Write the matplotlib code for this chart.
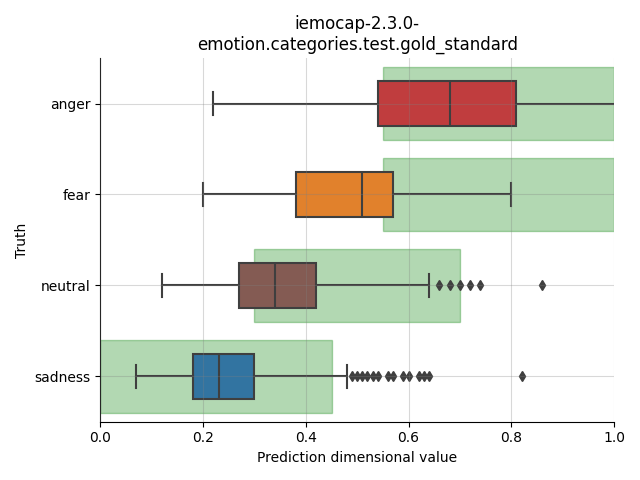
import matplotlib.pyplot as plt
from matplotlib.patches import Rectangle

# box statistics
categories = ['anger', 'fear', 'neutral', 'sadness']
whislo = [0.22, 0.20, 0.12, 0.07]
q1 = [0.54, 0.38, 0.27, 0.18]
med = [0.68, 0.51, 0.34, 0.23]
q3 = [0.81, 0.57, 0.42, 0.30]
whishi = [1.05, 0.80, 0.64, 0.48]
fliers = [
    [],
    [],
    [0.66, 0.68, 0.70, 0.72, 0.74, 0.86],
    [0.49, 0.50, 0.51, 0.52, 0.53, 0.54, 0.56, 0.57, 0.59, 0.60,
     0.62, 0.63, 0.64, 0.82],
]
# gold standard ranges
range_lo = [0.55, 0.55, 0.30, 0.00]
range_hi = [1.00, 1.00, 0.70, 0.45]
colors = ['#c03d3e', '#e1812c', '#845b53', '#3274a1']

fig, ax = plt.subplots(figsize=(6.4, 4.8), dpi=100)

for i in range(len(categories)):
    ax.add_patch(Rectangle((range_lo[i], i - 0.4), range_hi[i] - range_lo[i], 0.8,
                           color='green', alpha=0.3, zorder=1))

stats = []
for i, c in enumerate(categories):
    stats.append(dict(label=c, whislo=whislo[i], q1=q1[i], med=med[i],
                      q3=q3[i], whishi=whishi[i], fliers=fliers[i]))

line = '#3f3f3f'
bp = ax.bxp(stats, positions=range(len(categories)), widths=0.5,
            orientation='horizontal', patch_artist=True,
            boxprops=dict(edgecolor=line, linewidth=1.5),
            medianprops=dict(color=line, linewidth=1.5),
            whiskerprops=dict(color=line, linewidth=1.5),
            capprops=dict(color=line, linewidth=1.5),
            flierprops=dict(marker='d', markerfacecolor=line, markeredgecolor=line,
                            markersize=5))
for patch, col in zip(bp['boxes'], colors):
    patch.set_facecolor(col)
    patch.set_zorder(2)
for key in ['whiskers', 'caps', 'medians', 'fliers']:
    for artist in bp[key]:
        artist.set_zorder(2)

ax.set_xlim(0, 1)
ax.set_ylim(3.5, -0.5)
ax.set_yticks(range(len(categories)))
ax.set_yticklabels(categories)
ax.grid(True, color='gray', alpha=0.3, linewidth=0.8)
ax.set_axisbelow(False)
for artist in ax.get_xgridlines() + ax.get_ygridlines():
    artist.set_zorder(3)
ax.spines['top'].set_visible(False)
ax.spines['right'].set_visible(False)
ax.set_xlabel('Prediction dimensional value')
ax.set_ylabel('Truth')
ax.set_title('iemocap-2.3.0-\nemotion.categories.test.gold_standard')
plt.tight_layout()
plt.savefig('out.png')
